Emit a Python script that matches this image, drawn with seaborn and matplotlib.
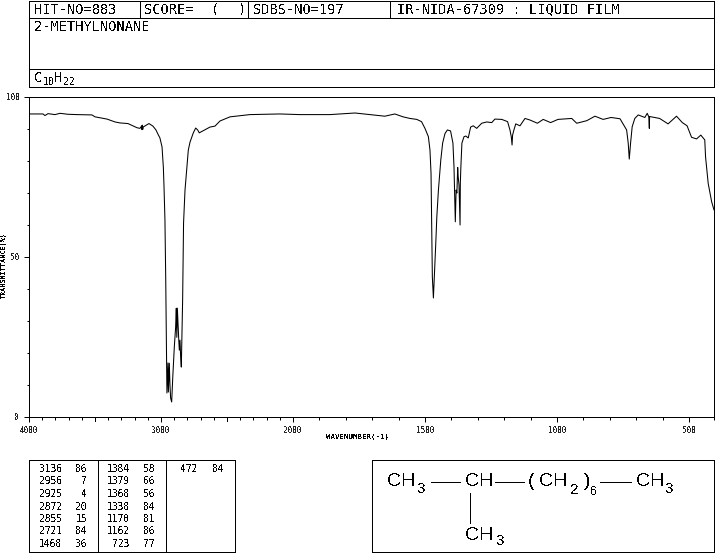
import matplotlib
matplotlib.use("Agg")
import matplotlib.pyplot as plt
import numpy as np
import pandas as pd
import seaborn as sns
from matplotlib.ticker import FixedLocator, NullFormatter

# IR spectrum trace
wavenumber = [
    3992, 3894, 3879, 3856, 3803, 3765, 3705, 3636, 3523, 3500, 3409, 3348, 3311, 3250,
    3182, 3159, 3146, 3144, 3141, 3138, 3136, 3091, 3061, 3038, 3023, 3008, 2992,
    2982, 2977, 2970, 2964, 2957, 2955, 2947, 2944, 2942, 2937, 2932, 2927, 2919, 2911,
    2899, 2889, 2884, 2880, 2876, 2866, 2861, 2856, 2851, 2846, 2836, 2829, 2818,
    2805, 2793, 2780, 2755, 2737, 2722, 2710, 2629, 2591, 2553, 2477,
    2326, 2100, 1974, 1860, 1765, 1708, 1652, 1614, 1583,
    1557, 1531, 1513, 1500, 1487, 1481, 1477, 1475, 1472, 1468, 1465, 1459, 1455, 1449,
    1440, 1433, 1424, 1415, 1403, 1394, 1390, 1388, 1385, 1383, 1382, 1379, 1376, 1374,
    1371, 1367, 1366, 1364, 1360, 1352, 1345, 1336, 1327, 1317, 1304, 1285, 1266, 1247,
    1235, 1209, 1187, 1178, 1173, 1170, 1168, 1163, 1156, 1140, 1121, 1102,
    1074, 1052, 1024, 996, 944, 925, 887, 856, 825, 795, 761, 736, 730, 726, 721, 715,
    705, 692, 667, 658, 652, 650, 649, 611, 579, 547, 525, 507, 490, 471, 455, 440,
    437, 427, 414, 405,
]
transmittance = [
    94.7, 94.7, 94.2, 94.8, 94.5, 94.9, 94.6, 94.5, 94.4, 93.8, 93.1, 92.2, 91.9, 91.7,
    90.4, 90.2, 91.0, 89.8, 91.2, 89.9, 90.6, 91.7, 90.9, 89.7, 88.4, 87.2, 84.4,
    78.0, 71.9, 61.6, 42.8, 15.3, 7.5, 16.9, 7.8, 10.6, 16.8, 10.0, 5.9, 4.7, 12.2,
    21.9, 28.1, 34.0, 24.9, 34.0, 24.7, 20.9, 24.0, 18.8, 15.6, 36.6, 60.6, 70.9,
    77.2, 83.4, 85.9, 88.8, 90.3, 89.7, 88.8, 90.6, 90.9, 92.5, 93.8,
    94.5, 94.7, 94.5, 94.5, 95.0, 94.5, 94.0, 94.7, 93.8,
    93.3, 93.0, 92.3, 90.2, 87.6, 83.4, 76.2, 62.6, 43.8, 37.2, 42.8, 54.3, 62.6, 70.9,
    80.3, 85.6, 88.6, 89.7, 89.4, 85.6, 78.2, 71.5, 61.0, 66.8, 70.9, 70.0, 78.0, 75.0,
    72.5, 60.0, 73.0, 78.0, 85.6, 87.6, 87.8, 87.2, 90.6, 91.0, 90.2, 91.8, 92.2, 92.0,
    93.1, 93.0, 92.3, 89.7, 87.6, 85.0, 88.1, 89.7, 91.6, 91.0, 93.3, 92.8,
    91.8, 93.0, 92.0, 93.0, 93.3, 91.8, 92.6, 94.0, 93.0, 93.6, 93.2, 89.7, 85.6, 80.6, 85.6, 90.7,
    93.3, 94.4, 93.6, 94.9, 93.8, 90.2, 93.9, 93.3, 91.6, 94.0, 92.0, 91.0, 87.4, 86.9, 88.1, 86.6,
    81.3, 73.0, 67.3, 64.7,
]

# peak table columns
peak_wn_1 = ["3136", "2956", "2925", "2872", "2855", "2721", "1468"]
peak_t_1 = ["86", "7", "4", "20", "15", "84", "36"]
peak_wn_2 = ["1384", "1379", "1368", "1338", "1170", "1162", "723"]
peak_t_2 = ["58", "66", "56", "84", "81", "86", "77"]
peak_wn_3 = ["472"]
peak_t_3 = ["84"]

x_major = [4000, 3000, 2000, 1500, 1000, 500]
x_medium = [3500, 2500]
x_minor = [w for w in range(3900, 400, -100) if w not in x_major + x_medium] + [405]
y_major = [0, 50, 100]
y_minor = [10, 20, 30, 40, 60, 70, 80, 90]

W, H = 715, 553
MONO = "DejaVu Sans Mono"
SANS = "Liberation Sans"
LW = 0.6
plt.rcParams["text.antialiased"] = False

sns.set_style("white")
fig = plt.figure(figsize=(W / 100, H / 100), dpi=100)
ax = fig.add_axes([29 / W, 1 - 417 / H, 685 / W, 320 / H])


# the chart switches to twice the scale below 2000 cm-1
def forward(w):
    w = np.asarray(w, dtype=float)
    return np.where(w >= 2000, w, 2000 + (w - 2000) * 2)


def inverse(v):
    v = np.asarray(v, dtype=float)
    return np.where(v >= 2000, v, 2000 + (v - 2000) / 2)


ax.set_xscale("function", functions=(forward, inverse))

df = pd.DataFrame({"wavenumber": wavenumber, "transmittance": transmittance})
sns.lineplot(
    data=df,
    x="wavenumber",
    y="transmittance",
    sort=False,
    estimator=None,
    color="black",
    linewidth=0.75,
    ax=ax,
)
ax.set_xlim(4000, 405)
ax.set_ylim(0, 100)

for s in ax.spines.values():
    s.set_visible(True)
    s.set_color("black")
    s.set_linewidth(0.72)

ax.xaxis.set_major_locator(FixedLocator(x_major))
ax.xaxis.set_minor_locator(FixedLocator(x_minor))
ax.xaxis.set_minor_formatter(NullFormatter())
ax.set_xticks(x_major)
ax.set_xticklabels([str(v) for v in x_major], family=MONO, fontsize=5.6)
ax.set_yticks(y_major)
ax.set_yticks(y_minor, minor=True)
ax.set_yticklabels([str(v) for v in y_major], family=MONO, fontsize=5.6)
ax.tick_params(which="major", length=3.8, width=0.72, color="black", pad=3, bottom=True, left=True)
ax.tick_params(which="minor", length=1.8, width=0.72, color="black", bottom=True, left=True)
# medium ticks at 3500 and 2500
for w in x_medium:
    ax.plot([w, w], [0, -1.1], color="black", lw=LW, clip_on=False, solid_capstyle="butt", antialiased=False)
ax.set_xlabel("")
ax.set_ylabel("")

# overlay in pixel coordinates for the boxes and the text around the plot
ov = fig.add_axes([0, 0, 1, 1], facecolor="none")
ov.set_xlim(0, W)
ov.set_ylim(H, 0)
ov.axis("off")


def line(x0, y0, x1, y1):
    ov.plot([x0, x1], [y0, y1], color="black", lw=LW, solid_capstyle="butt", antialiased=False)


def box(x0, y0, x1, y1):
    line(x0, y0, x1, y0)
    line(x0, y1, x1, y1)
    line(x0, y0, x0, y1)
    line(x1, y0, x1, y1)


def txt(x, y, s, size=9.8, ha="left", **kw):
    kw.setdefault("family", MONO)
    ov.text(x, y, s, fontsize=size, ha=ha, va="center", color="black", **kw)


# header block
box(29, 0.5, 714, 87)
line(29, 18, 714, 18)
line(29, 69, 714, 69)
for xc in [140, 248, 390]:
    line(xc, 0.5, xc, 18)
txt(34, 9.5, "HIT-NO=883")
txt(144, 9.5, "SCORE=")
txt(211, 9.5, "(")
txt(238, 9.5, ")")
txt(253, 9.5, "SDBS-NO=197")
txt(397, 9.5, "IR-NIDA-67309 : LIQUID FILM")
txt(34, 27, "2-METHYLNONANE")
txt(34, 78.5, "C")
txt(43, 82, "10", size=7)
txt(54, 78.5, "H")
txt(63, 82, "22", size=7)

# axis titles
txt(358, 437, "WAVENUMBER(-1)", size=5.3, ha="center", weight="bold")
ov.text(3.5, 265, "TRANSMITTANCE(%)", fontsize=4.9, family=MONO, rotation=90,
        ha="center", va="center", color="black")

# peak table
box(29, 460, 235, 552)
line(98, 460, 98, 552)
line(166, 460, 166, 552)
for i in range(7):
    y = 469 + i * 12.5
    txt(62, y, peak_wn_1[i], size=6.9, ha="right")
    txt(87, y, peak_t_1[i], size=6.9, ha="right")
    txt(130, y, peak_wn_2[i], size=6.9, ha="right")
    txt(155, y, peak_t_2[i], size=6.9, ha="right")
txt(198, 469, peak_wn_3[0], size=6.9, ha="right")
txt(224, 469, peak_t_3[0], size=6.9, ha="right")

# structure box
box(372, 460, 714, 552)
txt(387, 482, "CH", size=14, family=SANS)
txt(417, 489, "3", size=11, family=SANS)
line(431, 482, 460, 482)
txt(465, 482, "CH", size=14, family=SANS)
line(495, 482, 524, 482)
txt(528, 482, "(", size=14, family=SANS)
txt(539, 482, "CH", size=14, family=SANS)
txt(570, 490, "2", size=11, family=SANS)
txt(584, 482, ")", size=14, family=SANS)
txt(590, 492, "6", size=9, family=SANS)
line(600, 482, 631, 482)
txt(636, 482, "CH", size=14, family=SANS)
txt(665, 489, "3", size=11, family=SANS)
line(470, 493, 470, 523)
txt(465, 535, "CH", size=14, family=SANS)
txt(496, 541, "3", size=11, family=SANS)

fig.savefig("out.png", dpi=100, facecolor="white")
